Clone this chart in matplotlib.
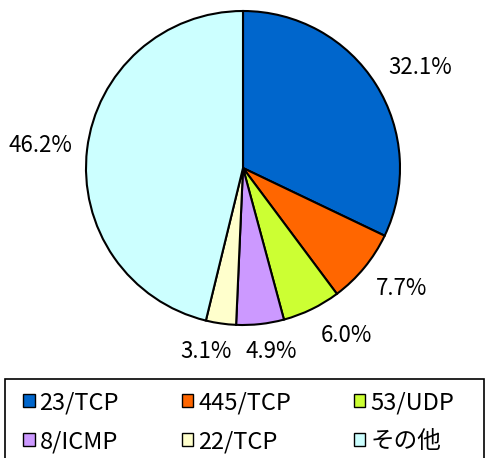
import numpy as np
import matplotlib
matplotlib.use('Agg')
import matplotlib.pyplot as plt
from matplotlib.patches import Patch, Rectangle

plt.rcParams['font.family'] = ['Noto Sans CJK JP', 'DejaVu Sans']

# datos
puertos = ['23/TCP', '445/TCP', '53/UDP', '8/ICMP', '22/TCP', 'その他']
porcentajes = [32.1, 7.7, 6.0, 4.9, 3.1, 46.2]
colores = ['#0066CC', '#FF6600', '#CCFF33', '#CC99FF', '#FFFFCC', '#CCFFFF']

# distancia y giro de cada etiqueta (estilo)
dist_etiqueta = [1.30, 1.27, 1.255, 1.185, 1.195, 1.295]
giro_etiqueta = [-2.6, 2.1, 5.6, 2.4, -3.3, 0.6]

W, H = 489, 458
fig = plt.figure(figsize=(W / 100, H / 100), dpi=100)
cx, cy, r = 243, 168, 157
ax = fig.add_axes([(cx - r) / W, 1 - (cy + r) / H, 2 * r / W, 2 * r / H])

wedges, _ = ax.pie(porcentajes, colors=colores, startangle=90, counterclock=False,
                   radius=1, wedgeprops=dict(edgecolor='black', linewidth=1.5))
ax.set_xlim(-1, 1)
ax.set_ylim(-1, 1)
ax.set_aspect('equal')
ax.axis('off')

for w, p, d, g in zip(wedges, porcentajes, dist_etiqueta, giro_etiqueta):
    ang = np.deg2rad((w.theta1 + w.theta2) / 2 + g)
    ax.text(d * np.cos(ang), d * np.sin(ang), f'{p:.1f}%', ha='center', va='center',
            fontsize=16, clip_on=False)

# leyenda por filas (matplotlib llena por columnas)
orden = [0, 3, 1, 4, 2, 5]
handles = [Patch(facecolor=colores[i], edgecolor='black', linewidth=1) for i in orden]
etiquetas = [puertos[i] for i in orden]
leg = fig.legend(handles, etiquetas, ncol=3, loc='upper left',
                 bbox_to_anchor=(23 / W, 1 - 391 / H),
                 fontsize=17, frameon=False,
                 handlelength=0.5, handleheight=0.5, handletextpad=0.2,
                 labelspacing=0.68, columnspacing=2.65, borderpad=0,
                 borderaxespad=0)

# marco de la leyenda (se corta abajo como en el original)
fig.patches.append(Rectangle((5 / W, -0.05), 479 / W, 1 - 379 / H + 0.05,
                             transform=fig.transFigure, fill=False,
                             edgecolor='black', linewidth=1.2))

fig.savefig('out.png', dpi=100)
